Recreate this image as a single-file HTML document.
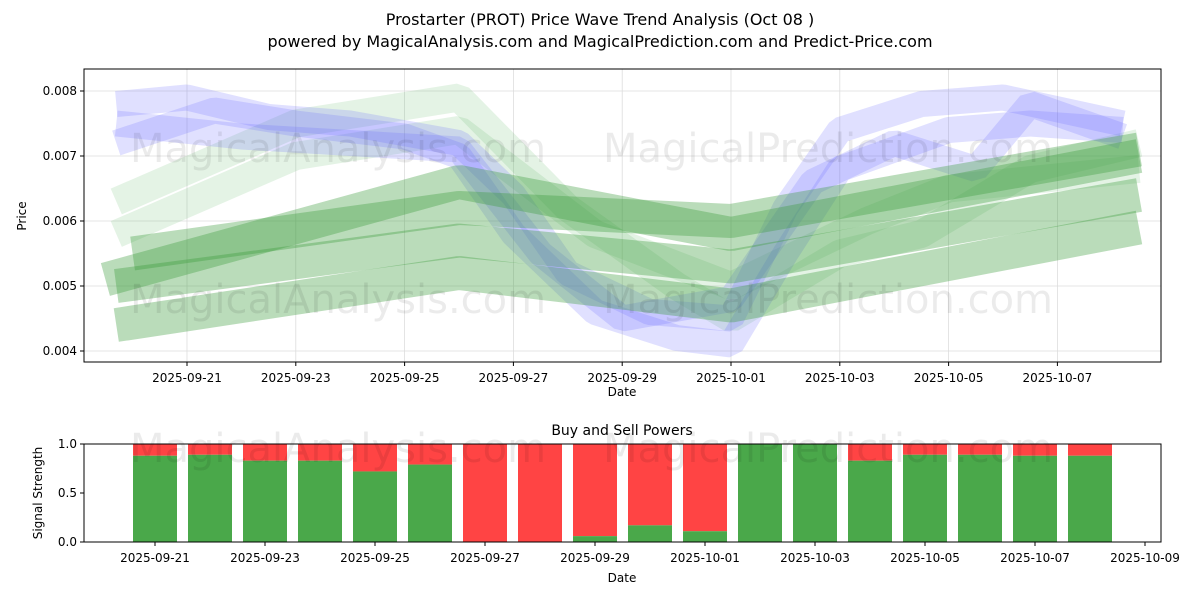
<!DOCTYPE html>
<html><head><meta charset="utf-8"><style>
body{margin:0;background:#fff;font-family:"Liberation Sans","DejaVu Sans",sans-serif;}
svg text{font-family:"DejaVu Sans","Liberation Sans",sans-serif;}
</style></head><body>
<svg id="c" width="1200" height="600" xmlns="http://www.w3.org/2000/svg">
<rect width="1200" height="600" fill="#fff"/>
<text x="600" y="25" text-anchor="middle" font-size="16">Prostarter (PROT) Price Wave Trend Analysis (Oct 08 )</text>
<text x="600" y="47" text-anchor="middle" font-size="16">powered by MagicalAnalysis.com and MagicalPrediction.com and Predict-Price.com</text>
<g id="topPanel"></g>
<g id="botPanel"></g>
</svg>
<script>
const blueWaves=[
 [[-0.3,0.0078],[1,0.0079],[2.5,0.0076],[4,0.0075],[6,0.0072],[7,0.0064],[8,0.0052],[9.5,0.0046],[11,0.0045],[12,0.0062],[13,0.0074],[14.5,0.0078],[16,0.0079],[18.2,0.0075]],
 [[-0.3,0.0072],[1.5,0.0077],[3,0.0075],[5,0.0073],[6,0.0070],[7,0.0058],[8.5,0.0046],[10,0.0042],[11,0.0041],[12,0.0055],[13,0.0068],[15,0.0074],[16.5,0.0075],[18.2,0.0074]],
 [[-0.3,0.0075],[2,0.0073],[4,0.0072],[6,0.0071],[7.5,0.0055],[9,0.0045],[11,0.0048],[12.5,0.0066],[14,0.0072],[15.5,0.0068],[16.5,0.0078],[18.2,0.0073]]
];
const greenWaves=[
 [[-0.3,0.0063],[3,0.0075],[6,0.0079],[8,0.0062],[10,0.0050],[11,0.0045],[13,0.0055],[14.5,0.0058],[16.5,0.0068],[18.5,0.0072]],
 [[-0.3,0.0058],[3,0.0070],[6,0.0074],[8.5,0.0058],[11,0.0050],[13.5,0.0060],[15,0.0065],[18.5,0.0068]]
];
const greenTrends=[
 [[-0.5,0.0051],[6,0.0066],[11,0.0058],[18.5,0.0070]],
 [[-0.3,0.0044],[6,0.0052],[11,0.0047],[18.5,0.0059]],
 [[-0.3,0.0050],[6,0.0057],[11,0.0053],[18.5,0.0064]],
 [[0,0.0055],[6,0.0062],[11,0.0060],[18.5,0.0071]]
];
const topTicks=["2025-09-21","2025-09-23","2025-09-25","2025-09-27","2025-09-29","2025-10-01","2025-10-03","2025-10-05","2025-10-07"];
const priceTicks=[0.004,0.005,0.006,0.007,0.008];
const barDays=[1,2,3,4,5,6,7,8,9,10,11,12,13,14,15,16,17,18];
const buyPower=[0.88,0.89,0.83,0.83,0.72,0.79,0,0,0.06,0.17,0.11,1,1,0.83,0.89,0.89,0.88,0.88];
const botTicks=["2025-09-21","2025-09-23","2025-09-25","2025-09-27","2025-09-29","2025-10-01","2025-10-03","2025-10-05","2025-10-07","2025-10-09"];
const sigTicks=[0,0.5,1];

const NS="http://www.w3.org/2000/svg";
function mk(p,t,a,txt){const e=document.createElementNS(NS,t);for(const k in a)e.setAttribute(k,a[k]);if(txt!==undefined)e.textContent=txt;p.appendChild(e);return e;}
const topG=document.getElementById('topPanel'),botG=document.getElementById('botPanel');
const tx=d=>187+(d-1)*54.4, ty=v=>351-(v-0.004)*65000;
const bx=d=>155+(d-1)*55, by=v=>542-v*98;
const T={l:84,r:1161,t:69,b:362}, B={l:84,r:1161,t:444,b:542};
topTicks.forEach((s,i)=>{const x=tx(1+2*i);mk(topG,'line',{x1:x,x2:x,y1:T.t,y2:T.b,stroke:'#ddd','stroke-width':0.8});});
priceTicks.forEach(v=>{mk(topG,'line',{x1:T.l,x2:T.r,y1:ty(v),y2:ty(v),stroke:'#ddd','stroke-width':0.8});});
function band(pts,col,w,op,name){const e=mk(topG,'polyline',{points:pts.map(p=>tx(p[0])+','+ty(p[1])).join(' '),fill:'none',stroke:col,'stroke-width':w,'stroke-opacity':op,'stroke-linejoin':'bevel'});

}
greenWaves.forEach((w,i)=>band(w,'#4caf50',28,0.15,'green-wave-'+i));
blueWaves.forEach((w,i)=>band(w,'#6666ff',26,0.2,'blue-wave-'+i));
greenTrends.forEach((w,i)=>band(w,'#3a9a3a',34,0.35,'green-trend-'+i));
mk(topG,'rect',{x:T.l,y:T.t,width:T.r-T.l,height:T.b-T.t,fill:'none',stroke:'#000','stroke-width':1});
topTicks.forEach((s,i)=>{const x=tx(1+2*i);mk(topG,'line',{x1:x,x2:x,y1:T.b,y2:T.b+4,stroke:'#000'});mk(topG,'text',{x:x,y:T.b+20,'text-anchor':'middle','font-size':12},s);});
priceTicks.forEach(v=>{const y=ty(v);mk(topG,'line',{x1:T.l-4,x2:T.l,y1:y,y2:y,stroke:'#000'});mk(topG,'text',{x:T.l-7,y:y+4,'text-anchor':'end','font-size':12},v.toFixed(3));});
mk(topG,'text',{x:622,y:396,'text-anchor':'middle','font-size':12},'Date');
mk(topG,'text',{x:26,y:216,'text-anchor':'middle','font-size':12,transform:'rotate(-90 26 216)'},'Price');
mk(topG,'text',{x:130,y:162,'font-size':40,fill:'#000','fill-opacity':0.08},'MagicalAnalysis.com');
mk(topG,'text',{x:603,y:162,'font-size':40,fill:'#000','fill-opacity':0.08},'MagicalPrediction.com');
mk(topG,'text',{x:130,y:313,'font-size':40,fill:'#000','fill-opacity':0.08},'MagicalAnalysis.com');
mk(topG,'text',{x:603,y:313,'font-size':40,fill:'#000','fill-opacity':0.08},'MagicalPrediction.com');
mk(botG,'text',{x:622,y:435,'text-anchor':'middle','font-size':14},'Buy and Sell Powers');
barDays.forEach((d,i)=>{const x=bx(d)-22;
 const r=mk(botG,'rect',{x:x,y:by(1),width:44,height:by(buyPower[i])-by(1),fill:'#ff4444'});
 
 
 const g=mk(botG,'rect',{x:x,y:by(buyPower[i]),width:44,height:by(0)-by(buyPower[i]),fill:'#4aa84a'});
 
 });
mk(botG,'text',{x:130,y:462,'font-size':40,fill:'#000','fill-opacity':0.08},'MagicalAnalysis.com');
mk(botG,'text',{x:603,y:462,'font-size':40,fill:'#000','fill-opacity':0.08},'MagicalPrediction.com');
mk(botG,'rect',{x:B.l,y:B.t,width:B.r-B.l,height:B.b-B.t,fill:'none',stroke:'#000','stroke-width':1});
botTicks.forEach((s,i)=>{const x=bx(1+2*i);mk(botG,'line',{x1:x,x2:x,y1:B.b,y2:B.b+4,stroke:'#000'});mk(botG,'text',{x:x,y:B.b+20,'text-anchor':'middle','font-size':12},s);});
sigTicks.forEach(v=>{const y=by(v);mk(botG,'line',{x1:B.l-4,x2:B.l,y1:y,y2:y,stroke:'#000'});mk(botG,'text',{x:B.l-7,y:y+4,'text-anchor':'end','font-size':12},v.toFixed(1));});
mk(botG,'text',{x:622,y:582,'text-anchor':'middle','font-size':12},'Date');
mk(botG,'text',{x:42,y:493,'text-anchor':'middle','font-size':12,transform:'rotate(-90 42 493)'},'Signal Strength');
</script>
</body></html>
